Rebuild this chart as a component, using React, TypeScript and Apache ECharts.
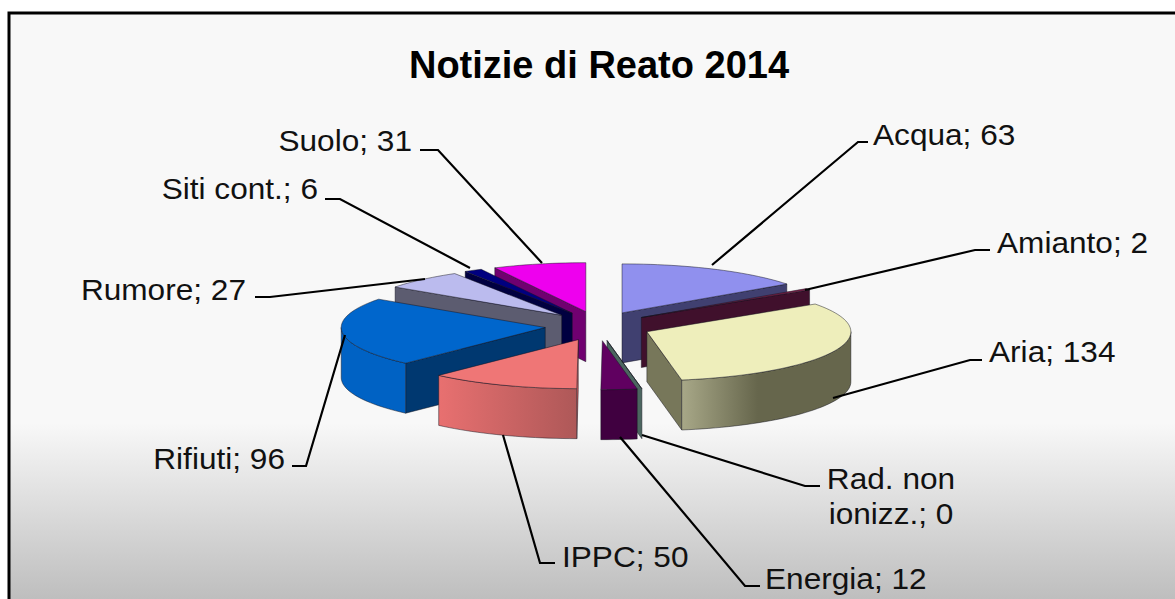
import React, { useEffect, useRef } from "react";
import * as echarts from "echarts";

const titleText = "Notizie di Reato 2014";
const names = ["Acqua", "Amianto", "Aria", "Rad. non\nionizz.", "Energia", "IPPC", "Rifiuti", "Rumore", "Siti cont.", "Suolo"];
const values = [63, 2, 134, 0, 12, 50, 96, 27, 6, 31];
const topColors = ["#9090ee", "#7a2048", "#eeeebb", "#5f7f78", "#600060", "#ef7676", "#0066cc", "#bbbbee", "#000080", "#ee00ee"];
const wallColors = ["#404070", "#40102c", "#77775a", "#4c6660", "#600060", "#e06c6c", "#003870", "#5c5c70", "#000040", "#700070"];
const arcFrom = ["#404070", "#40102c", "#a8a888", "#4c6660", "#400040", "#e87070", "#0062c4", "#5c5c70", "#000040", "#700070"];
const arcTo = ["#404070", "#40102c", "#66664c", "#4c6660", "#400040", "#ae5858", "#0062c4", "#5c5c70", "#000040", "#700070"];

// layout of the leader lines and labels: [line points], label x, label y, align
const labelLayout: any[] = [
  { pts: [[712, 265], [858, 142], [868, 142]], x: 873, y: 135, align: "left" },
  { pts: [[805, 290], [975, 250], [990, 250]], x: 997, y: 243, align: "left" },
  { pts: [[833, 398], [970, 360], [982, 360]], x: 989, y: 352, align: "left" },
  { pts: [[642, 435], [805, 486], [820, 486]], x: 891, y: 496, align: "center" },
  { pts: [[620, 437], [745, 586], [760, 586]], x: 765, y: 579, align: "left" },
  { pts: [[503, 435], [540, 563], [555, 563]], x: 562, y: 557, align: "left" },
  { pts: [[345, 335], [306, 466], [292, 466]], x: 285, y: 459, align: "right" },
  { pts: [[425, 279], [270, 297], [255, 297]], x: 246, y: 290, align: "right" },
  { pts: [[470, 268], [340, 199], [325, 199]], x: 318, y: 189, align: "right" },
  { pts: [[542, 263], [438, 150], [420, 150]], x: 412, y: 141, align: "right" },
];

const CX = 598, CY = 326, RX = 204, RY = 49, DEPTH = 50, EXPLODE_X = 0.26, EXPLODE_Y = 0.3;
const FONT = "Liberation Sans";
const rad = (d: number) => (d * Math.PI) / 180;

const total = values.reduce((a, b) => a + b, 0);
const starts: number[] = [];
values.reduce((acc, v, i) => { starts[i] = acc; return acc + v; }, 0);

function renderSlice(_: any, api: any) {
  const i = api.value(0);
  const a0 = (starts[i] / total) * 360;
  const a1 = ((starts[i] + values[i]) / total) * 360;
  const mid = (a0 + a1) / 2;
  const ax = CX + EXPLODE_X * RX * Math.sin(rad(mid));
  const ay = CY - EXPLODE_Y * RY * Math.cos(rad(mid));
  const pt = (a: number, dy = 0) => [ax + RX * Math.sin(rad(a)), ay - RY * Math.cos(rad(a)) + dy];
  const arc = (from: number, to: number, dy = 0) => {
    const n = Math.max(1, Math.ceil(Math.abs(to - from) / 2));
    const out: number[][] = [];
    for (let k = 0; k <= n; k++) out.push(pt(from + ((to - from) * k) / n, dy));
    return out;
  };
  const edge = "rgba(20,20,30,0.6)";
  const children: any[] = [];
  const wall = (a: number) => {
    const p = pt(a);
    const q = pt(a, DEPTH);
    children.push({
      type: "polygon",
      shape: { points: [[ax, ay], p, q, [ax, ay + DEPTH]] },
      style: { fill: wallColors[i], stroke: edge, lineWidth: 0.8 },
    });
  };
  if (a0 > 180 && a0 < 360) wall(a0);
  if (a1 > 0 && a1 < 180) wall(a1);
  const f0 = Math.max(a0, 90), f1 = Math.min(a1, 270);
  if (f1 > f0) {
    children.push({
      type: "polygon",
      shape: { points: [...arc(f0, f1), ...arc(f1, f0, DEPTH)] },
      style: {
        fill: new echarts.graphic.LinearGradient(0, 0, 1, 0, [
          { offset: 0, color: arcFrom[i] },
          { offset: i === 2 ? 0.45 : 1, color: arcTo[i] },
          { offset: 1, color: arcTo[i] },
        ]),
        stroke: edge,
        lineWidth: 0.8,
      },
    });
  }
  children.push({
    type: "polygon",
    shape: { points: [[ax, ay], ...arc(a0, a1)] },
    style: { fill: topColors[i], stroke: edge, lineWidth: 0.8 },
  });
  return { type: "group", children };
}

function renderLabel(_: any, api: any) {
  const i = api.value(0);
  const l = labelLayout[i];
  return {
    type: "group",
    children: [
      { type: "polyline", shape: { points: l.pts }, style: { stroke: "#000", lineWidth: 2.2, fill: "none" } },
      {
        type: "text",
        x: l.x,
        y: l.y,
        scaleX: 1.09,
        style: {
          text: `${names[i]}; ${values[i]}`,
          fontFamily: FONT,
          fontSize: 29,
          lineHeight: 35,
          fill: "#111",
          textAlign: l.align,
          textVerticalAlign: "middle",
        },
      },
    ],
  };
}

// back slices are painted first
const drawOrder = values
  .map((_, i) => i)
  .sort((p, q) => {
    const m = (j: number) => ((starts[j] + values[j] / 2) / total) * 360;
    return Math.cos(rad(m(q))) - Math.cos(rad(m(p)));
  });

export default function App() {
  const ref = useRef<HTMLDivElement>(null);
  useEffect(() => {
    document.body.style.margin = "0";
    const chart = echarts.init(ref.current!, null, { renderer: "svg" });
    chart.setOption({
      animation: false,
      backgroundColor: "#ffffff",
      title: {
        text: titleText,
        left: 594,
        top: 41,
        textAlign: "center",
        textStyle: { fontFamily: FONT, fontSize: 38, fontWeight: "bold", color: "#000" },
        z: 5,
      },
      graphic: {
        z: 1,
        elements: [
          {
            type: "rect",
            shape: { x: 9, y: 13, width: 1300, height: 700 },
            style: {
              stroke: "#000",
              lineWidth: 3,
              fill: {
                type: "linear", x: 0, y: 0, x2: 0, y2: 586 / 700,
                colorStops: [
                  { offset: 0, color: "#f8f8f8" },
                  { offset: 0.7, color: "#f8f8f8" },
                  { offset: 1, color: "#bebebe" },
                ],
              },
            },
          },
        ],
      },
      series: [
        {
          type: "custom",
          coordinateSystem: "none",
          z: 2,
          silent: true,
          data: drawOrder.map((i) => [i, values[i]]),
          encode: { value: [0, 1] },
          renderItem: renderSlice,
        },
        {
          type: "custom",
          coordinateSystem: "none",
          z: 3,
          silent: true,
          data: values.map((v, i) => [i, v]),
          encode: { value: [0, 1] },
          renderItem: renderLabel,
        },
      ],
    });
    return () => chart.dispose();
  }, []);
  return <div ref={ref} style={{ width: 1175, height: 599 }} />;
}
